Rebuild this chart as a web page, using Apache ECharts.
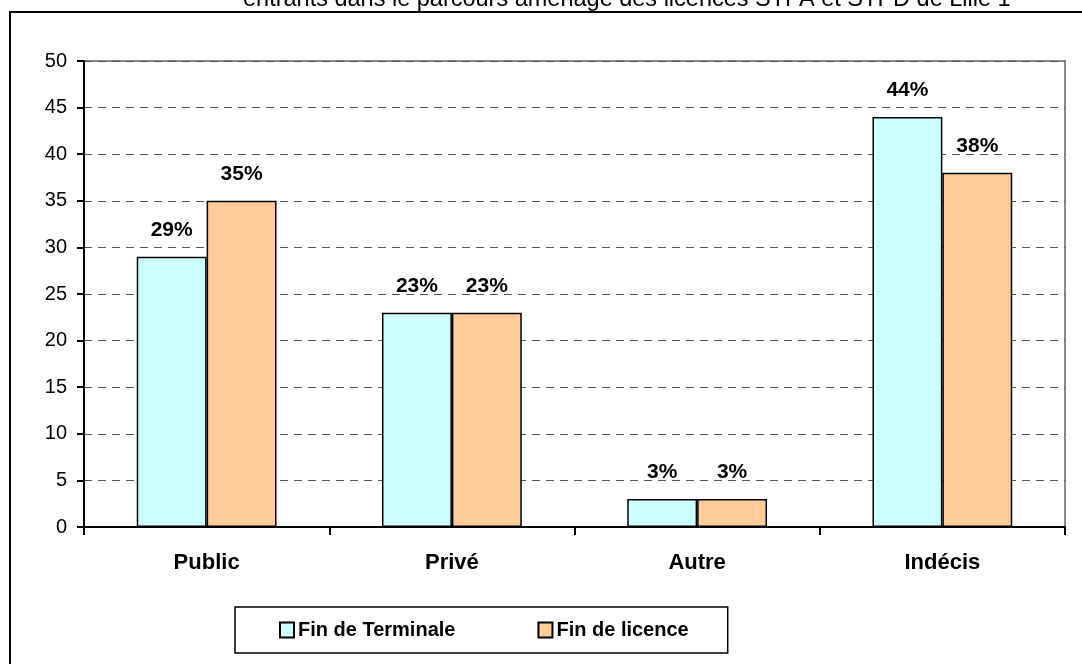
<!DOCTYPE html>
<html>
<head>
<meta charset="utf-8">
<script src="https://cdn.jsdelivr.net/npm/echarts@6/dist/echarts.min.js"></script>
<style>
  html, body { margin: 0; padding: 0; background: #fff; }
  #chart { width: 1082px; height: 664px; }
</style>
</head>
<body>
<div id="chart"></div>
<script>
// données
const categories = ['Public', 'Privé', 'Autre', 'Indécis']
const finTerminale = [29, 23, 3, 44]
const finLicence = [35, 23, 3, 38]
const seriesNames = ['Fin de Terminale', 'Fin de licence']
const titleText = 'entrants dans le parcours aménagé des licences STPA et STPD de Lille 1'

const font = 'Arial, "Liberation Sans", sans-serif'

const chart = echarts.init(document.getElementById('chart'), null, { renderer: 'canvas' })

function barSeries(name, data, color) {
  return {
    name: name,
    type: 'bar',
    data: data,
    barGap: '0%',
    barCategoryGap: '43%',
    itemStyle: { color: color, borderColor: '#000', borderWidth: 1.5 },
    label: {
      show: true,
      position: 'top',
      distance: 16,
      formatter: '{c}%',
      fontFamily: font,
      fontWeight: 'bold',
      fontSize: 21,
      color: '#000'
    }
  }
}

chart.setOption({
  animation: false,
  backgroundColor: '#fff',
  title: {
    text: titleText,
    left: 238,
    top: -17,
    textStyle: { fontFamily: font, fontWeight: 'normal', fontSize: 23.5, color: '#000' }
  },
  graphic: [{
    type: 'rect',
    shape: { x: 10, y: 12, width: 1100, height: 700 },
    style: { fill: 'none', stroke: '#000', lineWidth: 2 },
    z: -1
  }],
  legend: {
    data: seriesNames,
    left: 235,
    top: 607,
    itemGap: 82,
    itemWidth: 14,
    itemHeight: 15,
    padding: [13, 39, 13, 44],
    borderColor: '#000',
    borderWidth: 1.5,
    icon: 'rect',
    textStyle: { fontFamily: font, fontWeight: 'bold', fontSize: 20, color: '#000', padding: [0, 0, 0, -1] }
  },
  grid: {
    left: 84,
    right: 17,
    top: 61,
    bottom: 137,
    show: true,
    borderColor: '#888',
    borderWidth: 2
  },
  xAxis: {
    type: 'category',
    data: categories,
    axisLine: { lineStyle: { color: '#000', width: 2 } },
    axisTick: { show: true, length: 8, lineStyle: { color: '#000', width: 2 } },
    axisLabel: { fontFamily: font, fontWeight: 'bold', fontSize: 22, color: '#000', margin: 25 }
  },
  yAxis: {
    type: 'value',
    min: 0,
    max: 50,
    interval: 5,
    axisLine: { show: true, lineStyle: { color: '#000', width: 2 } },
    axisTick: { show: true, length: 7, lineStyle: { color: '#000', width: 2 } },
    axisLabel: { fontFamily: font, fontSize: 20, color: '#000', margin: 17 },
    splitLine: { show: true, lineStyle: { color: '#555', type: [8, 6], width: 1 } }
  },
  series: [
    barSeries(seriesNames[0], finTerminale, '#CCFFFF'),
    barSeries(seriesNames[1], finLicence, '#FFCC99')
  ]
})
</script>
</body>
</html>
